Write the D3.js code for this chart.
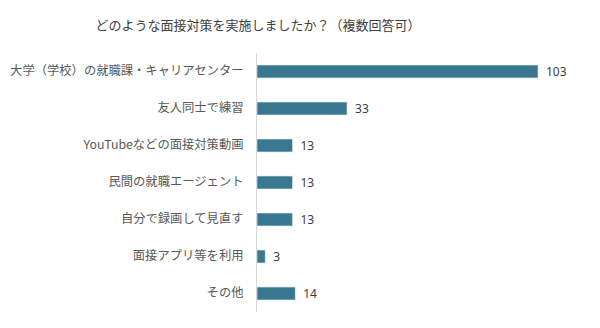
<!DOCTYPE html>
<html>
<head>
<meta charset="utf-8">
<script src="https://cdn.jsdelivr.net/npm/d3@7"></script>
<style>
  body { margin: 0; background: #fff; }
  text { font-family: "Noto Sans CJK JP", "Noto Sans", sans-serif; }
</style>
</head>
<body>
<script>
const w = 600;
const h = 328;

const categories = [
  "大学（学校）の就職課・キャリアセンター",
  "友人同士で練習",
  "YouTubeなどの面接対策動画",
  "民間の就職エージェント",
  "自分で録画して見直す",
  "面接アプリ等を利用",
  "その他"
];
const values = [103, 33, 13, 13, 13, 3, 14];
const title = "どのような面接対策を実施しましたか？（複数回答可）";

const dataset = categories.map((c, i) => ({name: c, value: values[i]}));

const xScale = d3.scaleLinear()
                 .domain([0, d3.max(values)])
                 .range([257, 538]);

const yScale = d3.scaleBand()
                 .domain(categories)
                 .range([53, 312])
                 .paddingInner(0.65)
                 .paddingOuter(0.325);

const svg = d3.select("body")
              .append("svg")
              .attr("width", w)
              .attr("height", h);

svg.append("text")
   .text(title)
   .attr("x", 258)
   .attr("y", 24)
   .attr("text-anchor", "middle")
   .attr("dominant-baseline", "central")
   .attr("font-size", "13px")
   .attr("fill", "#404040");

svg.selectAll("rect")
   .data(dataset)
   .enter()
   .append("rect")
   .attr("x", xScale(0))
   .attr("y", d => yScale(d.name))
   .attr("width", d => xScale(d.value) - xScale(0))
   .attr("height", yScale.bandwidth())
   .attr("fill", "#3a7790")
   .attr("stroke", "#dceaf0")
   .attr("stroke-width", 0.6);

// category axis, labels only plus a light line
const yAxis = d3.axisLeft(yScale).tickSize(0).tickPadding(13);
const gy = svg.append("g")
   .attr("transform", "translate(256.5,0)")
   .call(yAxis);
gy.select(".domain").remove();
gy.selectAll("text")
  .attr("font-size", "12.3px")
  .attr("fill", "#595959")
  .style("font-family", '"Noto Sans CJK JP", sans-serif');

svg.append("line")
   .attr("x1", 256.5).attr("x2", 256.5)
   .attr("y1", 53).attr("y2", 312)
   .attr("stroke", "#d9d9d9")
   .attr("stroke-width", 1);

svg.selectAll(".val")
   .data(dataset)
   .enter()
   .append("text")
   .attr("class", "val")
   .text(d => d.value)
   .attr("x", d => xScale(d.value) + 8)
   .attr("y", d => yScale(d.name) + yScale.bandwidth() / 2)
   .attr("dominant-baseline", "central")
   .attr("font-size", "12px")
   .attr("fill", "#404040")
   .style("font-family", '"Noto Sans", sans-serif');
</script>
</body>
</html>
